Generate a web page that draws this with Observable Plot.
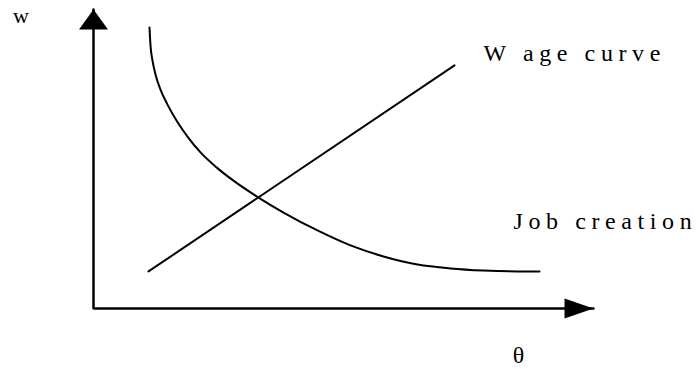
<!DOCTYPE html>
<html>
<head>
<meta charset="utf-8">
<script src="https://cdn.jsdelivr.net/npm/d3@7"></script>
<script src="https://cdn.jsdelivr.net/npm/@observablehq/plot@0.6"></script>
<style>
  html, body { margin: 0; padding: 0; background: #fff; }
  svg text { font-family: "Liberation Serif", "Times New Roman", "DejaVu Serif", serif !important; }
</style>
</head>
<body>
<div id="chart"></div>
<script>
// --- data (abstract units: θ on x, w on y) ---
const jobTheta = [1.12, 1.14, 1.18, 1.24, 1.34, 1.48, 1.66, 1.88, 2.14, 2.46, 2.82, 3.30, 3.80, 4.48, 5.14, 5.80, 6.48, 7.14, 7.80, 8.48, 8.92];
const jobW     = [9.40, 8.80, 8.29, 7.83, 7.32, 6.82, 6.29, 5.75, 5.22, 4.72, 4.25, 3.71, 3.21, 2.61, 2.11, 1.74, 1.47, 1.34, 1.27, 1.24, 1.24];
const wageTheta = [1.10, 7.22];
const wageW     = [1.24, 8.13];
const axisMax = { theta: 10, w: 10 };
const labelText  = ["w", "W age curve", "Job creation", "θ"];
const labelTheta = [-1.45, 7.8, 8.4, 8.5];
const labelW     = [9.77, 8.55, 2.90, -1.58];

// --- build tables ---
const job = jobTheta.map((t, i) => ({ theta: t, w: jobW[i] }));
const wage = wageTheta.map((t, i) => ({ theta: t, w: wageW[i] }));
const labels = labelText.map((s, i) => ({ text: s, theta: labelTheta[i], w: labelW[i] }));
const axes = [
  { theta: 0, w: axisMax.w }, { theta: 0, w: 0 }, { theta: axisMax.theta, w: 0 }
];

// arrowhead symbols
const arrowUp = { draw(ctx) { ctx.moveTo(0, 0); ctx.lineTo(14.5, 20); ctx.lineTo(-14.5, 20); ctx.closePath(); } };
const arrowRight = { draw(ctx) { ctx.moveTo(0, 0); ctx.lineTo(-29, 10); ctx.lineTo(-29, -10); ctx.closePath(); } };

const serif = "'Liberation Serif', 'Times New Roman', 'DejaVu Serif', serif";

const chart = Plot.plot({
  width: 698,
  height: 369,
  margin: 0,
  x: { domain: [-1.86, 12.1], range: [0, 698], axis: null },
  y: { domain: [-2.040, 10.301], range: [369, 0], axis: null },
  style: { fontFamily: serif, background: "#fff", overflow: "visible" },
  marks: [
    Plot.line(axes, { x: "theta", y: "w", stroke: "black", strokeWidth: 2.5, strokeLinejoin: "miter" }),
    Plot.dot([axes[0]], { x: "theta", y: "w", symbol: arrowUp, fill: "black", stroke: null }),
    Plot.dot([axes[2]], { x: "theta", y: "w", symbol: arrowRight, fill: "black", stroke: null }),
    Plot.line(job, { x: "theta", y: "w", curve: "monotone-x", stroke: "black", strokeWidth: 2 }),
    Plot.line(wage, { x: "theta", y: "w", stroke: "black", strokeWidth: 2 }),
    Plot.text(labels.filter(d => d.text === "w"), { x: "theta", y: "w", text: "text", fontSize: 22, fill: "black", textAnchor: "middle" }),
    Plot.text(labels.filter(d => d.text === "θ"), { x: "theta", y: "w", text: "text", fontSize: 24, fill: "black", textAnchor: "middle" }),
    Plot.text(labels.filter(d => d.text.length > 1), { x: "theta", y: "w", text: "text", fontSize: 24, fill: "black", textAnchor: "start" })
  ]
});
d3.select(chart).selectAll("text").filter(function() { return this.textContent.length > 1; }).attr("letter-spacing", "5.6px");
document.getElementById("chart").appendChild(chart);
</script>
</body>
</html>
